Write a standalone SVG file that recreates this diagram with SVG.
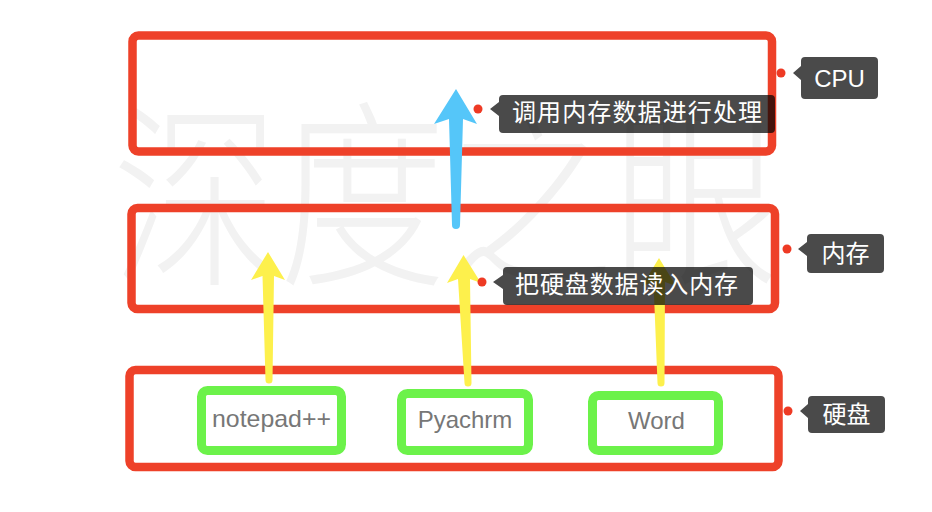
<svg xmlns="http://www.w3.org/2000/svg" width="932" height="512" viewBox="0 0 932 512">
<style>
.layer{fill:none;stroke:#ee4129;stroke-width:8.5}
.app{fill:#fff;stroke:#6cf24a;stroke-width:9}
.apptxt{font-family:"Liberation Sans","Noto Sans",sans-serif;font-size:24px;fill:#777;text-anchor:middle}
.tip{fill:#000;fill-opacity:0.71}
.tiptxt{font-family:"Liberation Sans","Noto Sans CJK SC",sans-serif;font-size:24px;fill:#fff}
.dot{fill:#ee3a24}
.wm{font-family:"Noto Sans CJK SC",sans-serif;font-weight:200;font-size:200px;fill:#f2f2f2}
.yel{fill:#fdf04c}
.blu{fill:#55c6f9}
</style>
<rect width="932" height="512" fill="#fff"/>
<text class="wm" x="112" y="270" textLength="668" lengthAdjust="spacingAndGlyphs">深度之眼</text>
<g id="cpu"><rect class="layer" x="132.5" y="35.5" width="639.5" height="116" rx="6"/></g>
<g id="memory"><rect class="layer" x="131.5" y="208" width="643.5" height="101" rx="6"/></g>
<g id="disk"><rect class="layer" x="129.5" y="370" width="649" height="97" rx="6"/></g>
<g id="notepad"><rect class="app" x="201.5" y="390.5" width="140" height="60" rx="6"/><text class="apptxt" x="271.5" y="427" textLength="119" lengthAdjust="spacingAndGlyphs">notepad++</text></g>
<g id="pycharm"><rect class="app" x="401.5" y="393.5" width="127" height="57" rx="6"/><text class="apptxt" x="465" y="428">Pyachrm</text></g>
<g id="word"><rect class="app" x="592.5" y="395.5" width="126" height="55" rx="6"/><text class="apptxt" x="656.5" y="429">Word</text></g>
<g id="connectors">
<path class="yel" d="M268,252 L285,280 L274,276 L272.5,380 A3.5,3.5 0 0 1 265.5,380 L262.5,276 L251,280 Z"/>
<path class="yel" d="M463.5,255 L481,283 L470,279 L471.5,383 A3.5,3.5 0 0 1 464.5,383 L458,279 L447,283 Z"/>
<path class="yel" d="M659,258 L676,286 L665,282 L664.5,383 A3.5,3.5 0 0 1 657.5,383 L653.5,282 L642,286 Z"/>
<path class="blu" d="M456,89 L477,124 L463,119 L460,225 A4,4 0 0 1 452,225 L449,119 L434,124 Z"/>
</g>
<g id="label-cpu"><circle class="dot" cx="781" cy="73" r="4.5"/><path class="tip" d="M805,57 H874 A4,4 0 0 1 878,61 V95 A4,4 0 0 1 874,99 H805 A4,4 0 0 1 801,95 V80 L793,73 L801,66 V61 A4,4 0 0 1 805,57 Z"/><text class="tiptxt" x="839.5" y="87" font-size="22" text-anchor="middle">CPU</text></g>
<g id="label-mem"><circle class="dot" cx="787" cy="249" r="4.5"/><path class="tip" d="M811,234 H880 A4,4 0 0 1 884,238 V269 A4,4 0 0 1 880,273 H811 A4,4 0 0 1 807,269 V256 L798,249 L807,242 V238 A4,4 0 0 1 811,234 Z"/><text class="tiptxt" x="845.5" y="262" text-anchor="middle">内存</text></g>
<g id="label-disk"><circle class="dot" cx="788" cy="411" r="4.5"/><path class="tip" d="M812,396 H881 A4,4 0 0 1 885,400 V429 A4,4 0 0 1 881,433 H812 A4,4 0 0 1 808,429 V418 L800,411 L808,404 V400 A4,4 0 0 1 812,396 Z"/><text class="tiptxt" x="846.5" y="423" text-anchor="middle">硬盘</text></g>
<g id="label-process"><circle class="dot" cx="478" cy="109" r="4.5"/><path class="tip" d="M503,95 H771 A4,4 0 0 1 775,99 V129 A4,4 0 0 1 771,133 H503 A4,4 0 0 1 499,129 V116 L490,109 L499,102 V99 A4,4 0 0 1 503,95 Z"/><text class="tiptxt" x="512" y="121" textLength="250" lengthAdjust="spacing">调用内存数据进行处理</text></g>
<g id="label-load"><circle class="dot" cx="482" cy="282" r="4.5"/><path class="tip" d="M507,267 H749 A4,4 0 0 1 753,271 V301 A4,4 0 0 1 749,305 H507 A4,4 0 0 1 503,301 V289 L493,282 L503,275 V271 A4,4 0 0 1 507,267 Z"/><text class="tiptxt" x="515" y="293" textLength="223" lengthAdjust="spacing">把硬盘数据读入内存</text></g>
</svg>
